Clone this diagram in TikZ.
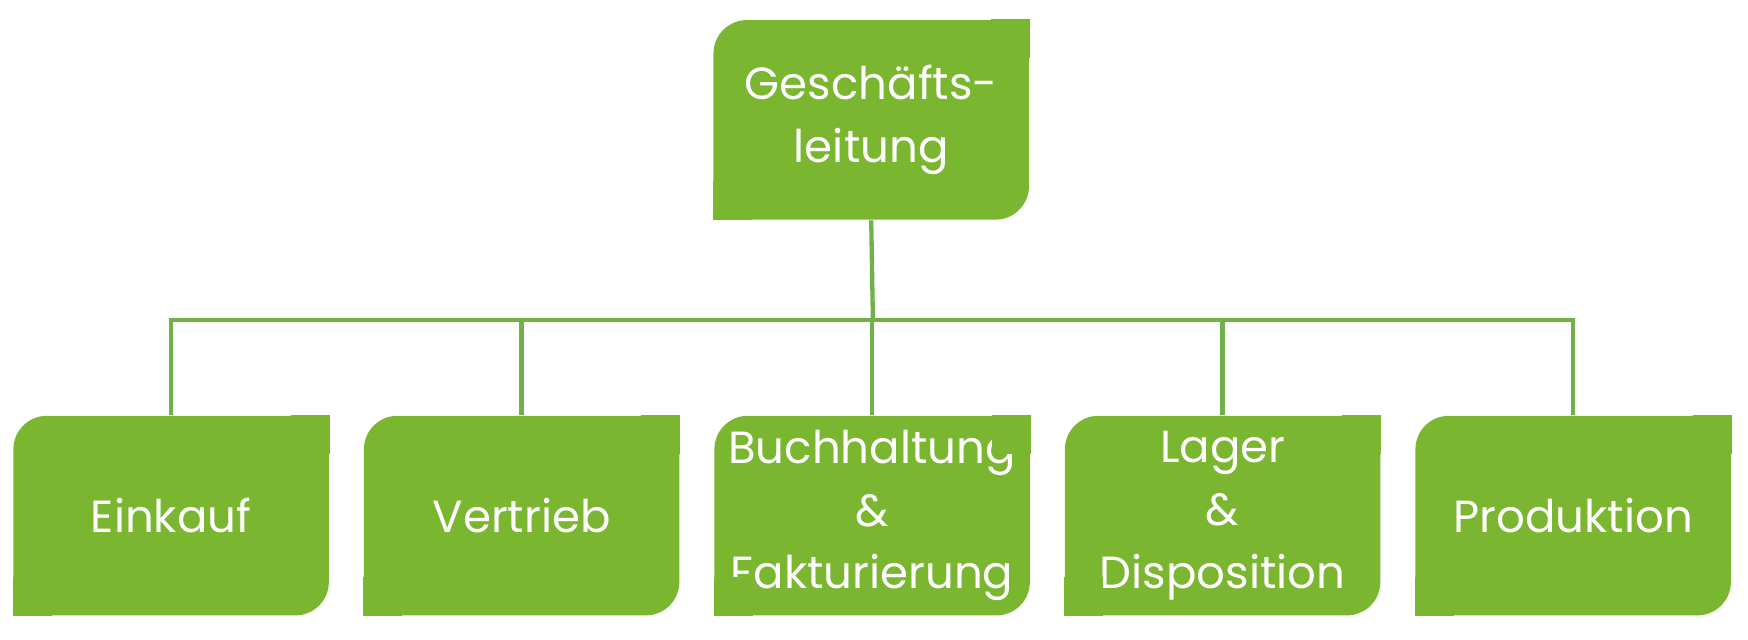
\documentclass[tikz,border=0pt]{standalone}
\usepackage{fontspec}
\setmainfont{Poppins}
\usetikzlibrary{positioning}
\definecolor{boxgreen}{HTML}{7AB62F}
\definecolor{linegreen}{HTML}{72B04A}
\tikzset{
  orgbox/.style = {fill = boxgreen, rounded corners = 0.3cm, minimum width = 2.83cm, minimum height = 1.79cm,
    inner sep = 0pt, text = white, align = center, font = \fontsize{11.5}{16}\selectfont},
  orgline/.style = {draw = linegreen, line width = 1.1pt}
}
\begin{document}
\begin{tikzpicture}
\useasboundingbox (0,0) rectangle (15.68,-5.74);
\node[orgbox] (gl) at (7.815,-1.075) {Geschäfts-\\leitung};
\node[orgbox] (ek) at (1.535,-4.625) {Einkauf};
\node[orgbox, right = 0.3cm of ek] (vt) {Vertrieb};
\node[orgbox, right = 0.3cm of vt] (bh) {Buchhaltung\\\&\\Fakturierung};
\node[orgbox, right = 0.3cm of bh] (lg) {Lager\\\&\\Disposition};
\node[orgbox, right = 0.3cm of lg] (pr) {Produktion};
% sharp corners top right and bottom left
\foreach \n in {gl,ek,vt,bh,lg,pr} {
  \fill[boxgreen] (\n.north east) rectangle +(-0.35,-0.35);
  \fill[boxgreen] (\n.south west) rectangle +(0.35,0.35);
}
\coordinate (bus) at (7.83,-2.87);
\draw[orgline] (gl.south) -- (bus);
\draw[orgline] (ek.north) |- (bus) -| (pr.north);
\foreach \n in {vt,bh,lg} \draw[orgline] (\n.north) -- (\n.north |- bus);
\end{tikzpicture}
\end{document}
